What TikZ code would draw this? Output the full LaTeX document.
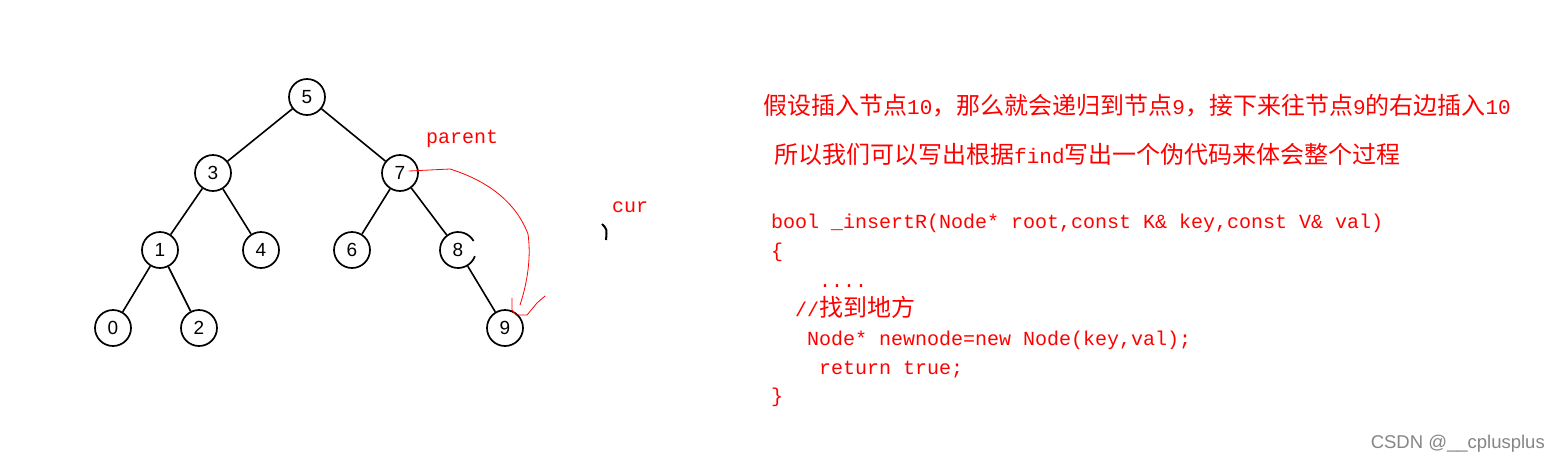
\documentclass[tikz,border=0pt]{standalone}
\usepackage{fontspec}
\setmainfont{Liberation Sans}
\setmonofont{Liberation Mono}
\newfontfamily\cjk{Noto Sans CJK SC}
\usetikzlibrary{calc}
\newcommand{\zh}{\cjk\fontsize{24}{24}\selectfont}
\newcommand{\dg}{\ttfamily\fontsize{21}{24}\selectfont}
\tikzset{
    treenode/.style={circle,draw,line width=1.7pt,minimum size=36pt,inner sep=0pt,
        font=\fontsize{19}{19}\selectfont},
    treeedge/.style={line width=1.6pt},
    redtext/.style={text=red,anchor=base west,inner sep=0pt,
        font=\ttfamily\fontsize{20}{24}\selectfont},
    redink/.style={red,line width=0.8pt,line join=round,line cap=round}
}
\begin{document}
\begin{tikzpicture}[x=1pt,y=-1pt]%
        \useasboundingbox (0,0) rectangle (1561,459);
        % the tree
        \node[treenode] (n5) at (307,97) {5};
        \node[treenode] (n3) at (213,173) {3};
        \node[treenode] (n7) at (400,173) {7};
        \node[treenode] (n1) at (160,250) {1};
        \node[treenode] (n4) at (261,250) {4};
        \node[treenode] (n6) at (352,250) {6};
        \node[treenode,draw=none] (n8) at (458,250) {8};
        \draw[line width=1.7pt] (n8.center) ++(20:18) arc (20:330:18);
        \node[treenode] (n0) at (113,328) {0};
        \node[treenode] (n2) at (199,328) {2};
        \node[treenode] (n9) at (505,328) {9};
        \foreach \a/\b in {n5/n3,n5/n7,n3/n1,n3/n4,n7/n6,n7/n8,n1/n0,n1/n2,n8/n9}
            \draw[treeedge] (\a) -- (\b);
        % labels and the hand drawn stroke
        \node[redtext] (lparent) at (426,143) {parent};
        \node[redtext] (lcur) at (612,212) {cur};
        \draw[line width=2pt] (602,224) .. controls (607,229) .. (606,240);
        \coordinate (pstart) at ($(n7.center)+(9,-2)$);
        \coordinate (pend) at (520,305);
        \draw[redink] (pstart) -- (450,169)
            .. controls (485,180) and (515,200) .. (528,234)
            .. controls (532,262) and (525,290) .. (pend);
        \draw[redink] (512,298) -- (512,310) -- (516,315) -- (527,315)
            -- (537,303) -- (545,296);
        % the text on the right
        \node[redtext] (line1) at (763,114) {{\zh 假设插入节点}{\dg 10}{\zh ，那么就会递归到节点}{\dg 9}{\zh ，接下来往节点}{\dg 9}{\zh 的右边插入}{\dg 10}};
        \node[redtext] (line2) at (774,163) {{\zh 所以我们可以写出根据}{\dg find}{\zh 写出一个伪代码来体会整个过程}};
        \node[redtext] (code1) at (771,228) {bool \_insertR(Node* root,const K\& key,const V\& val)};
        \node[redtext] (code2) at (771,257) {\{};
        \node[redtext] (code3) at (819,287) {....};
        \node[redtext] (code4) at (795,316) {//{\zh 找到地方}};
        \node[redtext] (code5) at (807,345) {Node* newnode=new Node(key,val);};
        \node[redtext] (code6) at (819,374) {return true;};
        \node[redtext] (code7) at (771,402) {\}};
        \node[text=black!48,anchor=base east,inner sep=0pt,font=\fontsize{18.5}{18.5}\selectfont]
            (mark) at (1545,448) {CSDN @\_\_cplusplus};
    \end{tikzpicture}
\end{document}
